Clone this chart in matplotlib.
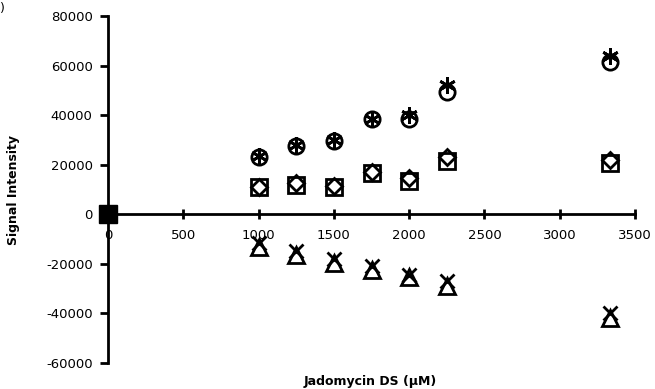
import matplotlib
matplotlib.use("Agg")
import matplotlib.pyplot as plt

x = [1000, 1250, 1500, 1750, 2000, 2250, 3333]
circle_vals = [23000, 27500, 29500, 38500, 38500, 49500, 61500]
aster_vals = [23500, 28000, 30000, 38500, 40000, 52000, 64000]
square_vals = [11000, 12000, 11000, 16500, 13500, 21500, 20500]
diamond_vals = [11000, 12500, 11500, 17000, 14500, 23000, 22000]
triangle_vals = [-13000, -16500, -19500, -22500, -25500, -29000, -41800]
cross_vals = [-11500, -15000, -18000, -21000, -24500, -27000, -40000]
origin_x = [0]
origin_y = [0]

xticks = [0, 500, 1000, 1500, 2000, 2500, 3000, 3500]
yticks = [-60000, -40000, -20000, 0, 20000, 40000, 60000, 80000]

plt.rcParams['font.family'] = ['DejaVu Sans']
fig = plt.figure(figsize=(6.55, 3.89), dpi=100)
ax = fig.add_axes([108/655, 1-363/389, (635-108)/655, (363-16)/389])
ax.set_xlim(0, 3500)
ax.set_ylim(-60000, 80000)

kw = dict(linestyle='none', color='black', mfc='none', mew=2)
ax.plot(x, circle_vals, marker='o', markersize=11, **kw)
ax.plot(x, aster_vals, marker=(6, 2, 0), markersize=12, **kw)
ax.plot(x, square_vals, marker='s', markersize=11, **kw)
ax.plot(x, diamond_vals, marker='D', markersize=8, **kw)
ax.plot(x, triangle_vals, marker='^', markersize=12, **kw)
ax.plot(x, cross_vals, marker='x', markersize=10, **kw)
ax.plot(origin_x, origin_y, marker='s', markersize=13, color='black', linestyle='none', clip_on=False, zorder=5)

for s in ['top', 'right']:
    ax.spines[s].set_visible(False)
ax.spines['left'].set_position(('data', 0))
ax.spines['bottom'].set_position(('data', 0))
ax.spines['left'].set_linewidth(2)
ax.spines['bottom'].set_linewidth(2)

ax.set_xticks(xticks)
ax.set_yticks(yticks)
ax.set_xticklabels([str(v) for v in xticks], fontsize=9.5)
ax.set_yticklabels([str(v) for v in yticks], fontsize=9.5)
ax.tick_params(axis='y', direction='out', length=6, width=2, pad=5)
ax.tick_params(axis='x', direction='inout', length=7, width=2, pad=7)

fig.text(370/655, 1-381/389, 'Jadomycin DS (\u00b5M)', ha='center', va='center', fontsize=9, fontweight='bold')
fig.text(14/655, 1-190/389, 'Signal Intensity', ha='center', va='center', rotation=90, fontsize=9, fontweight='bold')
fig.text(0.0, 0.995, ')', ha='left', va='top', fontsize=9)

fig.savefig('out.png', dpi=100)
